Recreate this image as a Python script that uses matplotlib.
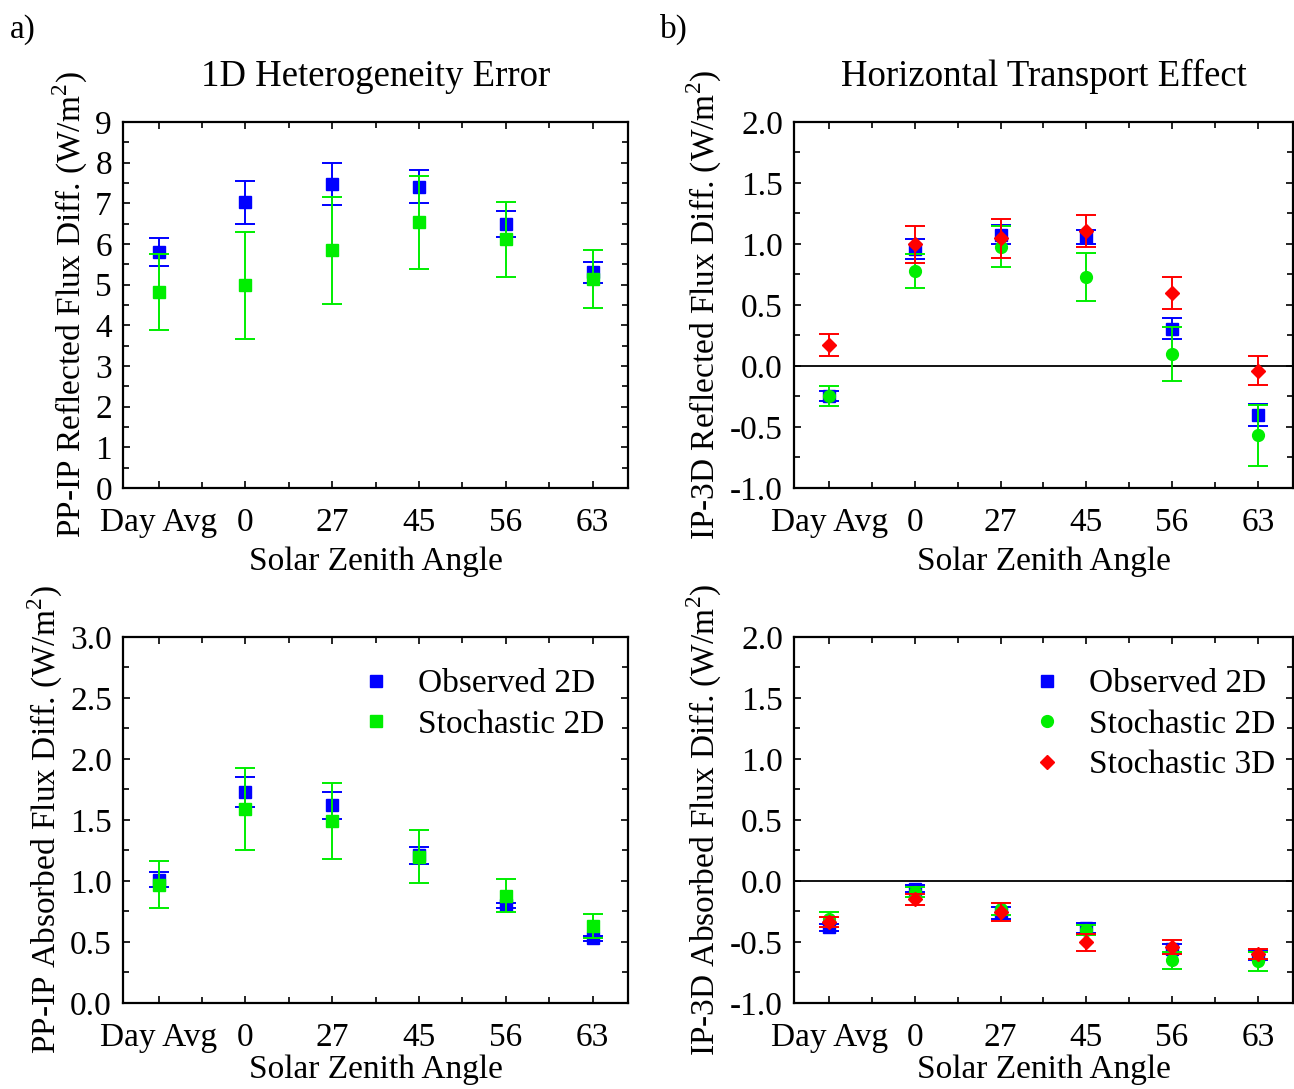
import matplotlib
matplotlib.use('Agg')
from matplotlib import pyplot as plt
from matplotlib.lines import Line2D
import numpy as np

plt.rcParams['font.family'] = ['Liberation Serif', 'DejaVu Serif']
plt.rcParams['mathtext.fontset'] = 'custom'
plt.rcParams['mathtext.rm'] = 'Liberation Serif'
plt.rcParams['axes.unicode_minus'] = False

categories = ['Day Avg', '0', '27', '45', '56', '63']

# a) top: PP-IP reflected
refl_obs = [5.80, 7.02, 7.47, 7.41, 6.49, 5.30]
refl_obs_err = [0.35, 0.52, 0.51, 0.41, 0.33, 0.25]
refl_sto2d = [4.82, 4.98, 5.84, 6.53, 6.11, 5.14]
refl_sto2d_err = [0.93, 1.32, 1.32, 1.15, 0.93, 0.72]

# a) bottom: PP-IP absorbed
abs_obs = [1.01, 1.73, 1.62, 1.21, 0.80, 0.53]
abs_obs_err = [0.06, 0.12, 0.11, 0.07, 0.02, 0.02]
abs_sto2d = [0.97, 1.59, 1.49, 1.20, 0.88, 0.63]
abs_sto2d_err = [0.19, 0.34, 0.31, 0.22, 0.135, 0.10]

# b) top: IP-3D reflected
ht_refl_obs = [-0.245, 0.957, 1.077, 1.058, 0.306, -0.40]
ht_refl_obs_err = [0.04, 0.08, 0.08, 0.06, 0.085, 0.09]
ht_refl_sto2d = [-0.245, 0.778, 0.979, 0.729, 0.097, -0.567]
ht_refl_sto2d_err = [0.08, 0.14, 0.17, 0.20, 0.22, 0.25]
ht_refl_sto3d = [0.169, 0.998, 1.048, 1.108, 0.597, -0.04]
ht_refl_sto3d_err = [0.09, 0.15, 0.16, 0.13, 0.13, 0.12]

# b) bottom: IP-3D absorbed
ht_abs_obs = [-0.379, -0.063, -0.26, -0.384, -0.557, -0.61]
ht_abs_obs_err = [0.03, 0.03, 0.05, 0.04, 0.04, 0.04]
ht_abs_sto2d = [-0.315, -0.09, -0.23, -0.403, -0.65, -0.66]
ht_abs_sto2d_err = [0.06, 0.04, 0.05, 0.04, 0.07, 0.08]
ht_abs_sto3d = [-0.335, -0.15, -0.255, -0.503, -0.54, -0.60]
ht_abs_sto3d_err = [0.04, 0.045, 0.075, 0.07, 0.06, 0.04]

BLUE = '#0000ff'
GREEN = '#00ee00'
RED = '#ff0000'
FS = 24

x = np.arange(len(categories))

fig = plt.figure(figsize=(12.94, 10.89), dpi=100)
ax_tl = fig.add_axes([0.0951, 0.5519, 0.3903, 0.3361])
ax_tr = fig.add_axes([0.6136, 0.5519, 0.3856, 0.3361])
ax_bl = fig.add_axes([0.0951, 0.0790, 0.3903, 0.3361])
ax_br = fig.add_axes([0.6136, 0.0790, 0.3856, 0.3361])


def draw(ax, y, err, color, marker, ms, z):
    ax.errorbar(x, y, yerr=err, fmt=marker, color=color, ms=ms,
                mfc=color, mec=color, ecolor=color, elinewidth=1.4,
                capsize=7.5, capthick=1.4, zorder=z)


def style(ax, ylim, major, ylabel, fmt, xpad=6):
    ax.set_xlim(-0.41, 5.41)
    ax.set_ylim(*ylim)
    ax.set_xticks(x)
    ax.set_xticklabels(categories)
    ax.set_xticks(x[:-1] + 0.5, minor=True)
    ax.set_yticks(np.arange(ylim[0], ylim[1] + 1e-9, major))
    ax.set_yticks(np.arange(ylim[0], ylim[1] + 1e-9, major / 2), minor=True)
    ax.yaxis.set_major_formatter(fmt)
    ax.tick_params(which='both', direction='in', top=True, right=True,
                   labelsize=FS, width=1.2)
    ax.tick_params(axis='x', which='major', pad=14)
    ax.tick_params(axis='y', which='major', pad=8)
    ax.tick_params(which='major', length=5)
    ax.tick_params(which='minor', length=4)
    for s in ax.spines.values():
        s.set_linewidth(1.6)
    ax.set_xlabel('Solar Zenith Angle', fontsize=FS, labelpad=xpad)
    ax.set_ylabel(ylabel, fontsize=FS, labelpad=4)


# a) top
draw(ax_tl, refl_obs, refl_obs_err, BLUE, 's', 9, 3)
draw(ax_tl, refl_sto2d, refl_sto2d_err, GREEN, 's', 9, 4)
style(ax_tl, (0, 9), 1, 'PP-IP Reflected Flux Diff. (W/m$^2$)', '{x:.0f}')
ax_tl.set_title('1D Heterogeneity Error', fontsize=26.5, pad=26)

# b) top
draw(ax_tr, ht_refl_obs, ht_refl_obs_err, BLUE, 's', 9, 3)
draw(ax_tr, ht_refl_sto2d, ht_refl_sto2d_err, GREEN, 'o', 8.5, 4)
draw(ax_tr, ht_refl_sto3d, ht_refl_sto3d_err, RED, 'D', 7.5, 5)
ax_tr.axhline(0, color='black', lw=1.3, zorder=2)
style(ax_tr, (-1, 2), 0.5, 'IP-3D Reflected Flux Diff. (W/m$^2$)', '{x:.1f}')
ax_tr.set_title('Horizontal Transport Effect', fontsize=26.5, pad=26)

# a) bottom
draw(ax_bl, abs_obs, abs_obs_err, BLUE, 's', 9, 3)
draw(ax_bl, abs_sto2d, abs_sto2d_err, GREEN, 's', 9, 4)
style(ax_bl, (0, 3), 0.5, 'PP-IP Absorbed Flux Diff. (W/m$^2$)', '{x:.1f}', xpad=1)

# b) bottom
draw(ax_br, ht_abs_obs, ht_abs_obs_err, BLUE, 's', 9, 3)
draw(ax_br, ht_abs_sto2d, ht_abs_sto2d_err, GREEN, 'o', 8.5, 4)
draw(ax_br, ht_abs_sto3d, ht_abs_sto3d_err, RED, 'D', 7.5, 5)
ax_br.axhline(0, color='black', lw=1.3, zorder=2)
style(ax_br, (-1, 2), 0.5, 'IP-3D Absorbed Flux Diff. (W/m$^2$)', '{x:.1f}', xpad=1)

h_obs = Line2D([], [], ls='none', marker='s', color=BLUE, ms=9)
h_s2s = Line2D([], [], ls='none', marker='s', color=GREEN, ms=9)
h_s2o = Line2D([], [], ls='none', marker='o', color=GREEN, ms=8.5)
h_s3 = Line2D([], [], ls='none', marker='D', color=RED, ms=7.5)

ax_bl.legend([h_obs, h_s2s], ['Observed 2D', 'Stochastic 2D'], loc='upper right',
             bbox_to_anchor=(1.012, 0.995), frameon=False, fontsize=FS,
             handlelength=1.0, handletextpad=0.75, labelspacing=0.3)
ax_br.legend([h_obs, h_s2o, h_s3], ['Observed 2D', 'Stochastic 2D', 'Stochastic 3D'],
             loc='upper right', bbox_to_anchor=(1.025, 0.995), frameon=False,
             fontsize=FS, handlelength=1.0, handletextpad=0.75, labelspacing=0.3)

fig.text(0.008, 0.965, 'a)', fontsize=FS)
fig.text(0.510, 0.965, 'b)', fontsize=FS)

fig.savefig('out.png', dpi=100)
